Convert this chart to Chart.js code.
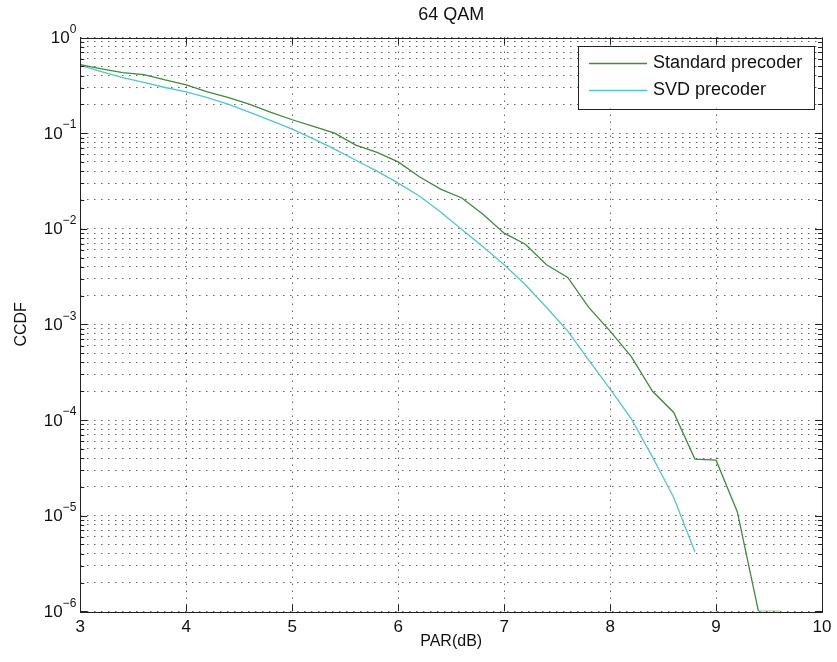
<!DOCTYPE html>
<html>
<head>
<meta charset="utf-8">
<script src="https://cdn.jsdelivr.net/npm/chart.js@4/dist/chart.umd.min.js"></script>
<style>
  body { margin: 0; background: #fff; }
  canvas { display: block; }
</style>
</head>
<body>
<canvas id="ccdf" width="837" height="662"></canvas>
<script>
// PAR values in dB (0.2 dB steps)
const parDb = [3.0, 3.2, 3.4, 3.6, 3.8, 4.0, 4.2, 4.4, 4.6, 4.8, 5.0, 5.2, 5.4, 5.6, 5.8, 6.0, 6.2, 6.4, 6.6, 6.8,
  7.0, 7.2, 7.4, 7.6, 7.8, 8.0, 8.2, 8.4, 8.6, 8.8, 9.0, 9.2, 9.4, 9.6];

const standardCcdf = [0.52, 0.47, 0.43, 0.41, 0.36, 0.32, 0.27, 0.235, 0.20, 0.165, 0.138, 0.118, 0.10, 0.075,
  0.063, 0.050, 0.035, 0.026, 0.021, 0.0142, 0.0090, 0.0069, 0.0042, 0.0031, 0.0015, 0.00085, 0.00046,
  0.0002, 0.00012, 3.9e-5, 3.8e-5, 1.1e-5, 1e-6, 1e-6];

const svdCcdf = [0.51, 0.44, 0.38, 0.34, 0.30, 0.27, 0.235, 0.20, 0.165, 0.135, 0.11, 0.087, 0.068, 0.052,
  0.040, 0.030, 0.022, 0.015, 0.0098, 0.0065, 0.0042, 0.0026, 0.0015, 0.00085, 0.00042, 0.00021, 0.000103,
  4.1e-5, 1.55e-5, 4.2e-6];

const xTicks = [3, 4, 5, 6, 7, 8, 9, 10];
const yDecades = [-6, -5, -4, -3, -2, -1, 0];
const seriesNames = ["Standard precoder", "SVD precoder"];
const seriesColors = ["#3f8a3f", "#52c6c8"];

function toPoints(xs, ys) {
  return ys.map((y, i) => ({ x: xs[i], y: y }));
}

// all log grid positions: 1..9 x 10^d
const yTickValues = [];
yDecades.forEach((d) => {
  if (d === 0) { yTickValues.push(1); return; }
  for (let m = 1; m <= 9; m++) yTickValues.push(Number((m * Math.pow(10, d)).toPrecision(3)));
});

function isDecade(v) {
  const l = Math.log10(v);
  return Math.abs(l - Math.round(l)) < 1e-9;
}

const fontFamily = "'Liberation Sans', Arial, sans-serif";

// box, inward ticks and 10^n labels, like the matlab axes
const axesBox = {
  id: "axesBox",
  afterDatasetsDraw(chart) {
    const { ctx, chartArea: a, scales } = chart;
    ctx.save();
    ctx.strokeStyle = "#222";
    ctx.lineWidth = 1;
    ctx.beginPath();
    scales.x.ticks.forEach((t) => {
      const px = Math.round(scales.x.getPixelForValue(t.value)) + 0.5;
      ctx.moveTo(px, a.bottom); ctx.lineTo(px, a.bottom - 7);
      ctx.moveTo(px, a.top); ctx.lineTo(px, a.top + 7);
    });
    scales.y.ticks.forEach((t) => {
      const py = Math.round(scales.y.getPixelForValue(t.value)) + 0.5;
      const len = isDecade(t.value) ? 7 : 4;
      ctx.moveTo(a.left, py); ctx.lineTo(a.left + len, py);
      ctx.moveTo(a.right, py); ctx.lineTo(a.right - len, py);
    });
    ctx.stroke();
    ctx.strokeRect(Math.round(a.left) + 0.5, Math.round(a.top) + 0.5,
      Math.round(a.right - a.left), Math.round(a.bottom - a.top));

    // y tick labels with raised exponent
    ctx.fillStyle = "#111";
    ctx.textAlign = "right";
    ctx.textBaseline = "middle";
    yDecades.forEach((d) => {
      const py = scales.y.getPixelForValue(Math.pow(10, d));
      const exp = d === 0 ? "0" : "\u2212" + String(-d);
      ctx.font = "12px " + fontFamily;
      const ew = ctx.measureText(exp).width;
      const rx = a.left - 4;
      ctx.fillText(exp, rx, py - 8);
      ctx.font = "17px " + fontFamily;
      ctx.fillText("10", rx - ew, py + 1);
    });
    ctx.restore();
  },
  afterDraw(chart) {
    // legend box inside the plot, top right
    const { ctx, chartArea: a } = chart;
    const bx = a.right - 244, by = a.top + 8, bw = 236, bh = 63;
    ctx.save();
    ctx.fillStyle = "#fff";
    ctx.fillRect(bx, by, bw, bh);
    ctx.strokeStyle = "#222";
    ctx.lineWidth = 1;
    ctx.strokeRect(Math.round(bx) + 0.5, Math.round(by) + 0.5, bw, bh);
    ctx.font = "18px " + fontFamily;
    ctx.textBaseline = "middle";
    ctx.fillStyle = "#111";
    seriesNames.forEach((name, i) => {
      const ly = by + 18 + i * 27;
      ctx.strokeStyle = seriesColors[i];
      ctx.lineWidth = 1.3;
      ctx.beginPath();
      ctx.moveTo(bx + 11, ly); ctx.lineTo(bx + 69, ly);
      ctx.stroke();
      ctx.fillText(name, bx + 75, ly);
    });
    ctx.restore();
  }
};

new Chart(document.getElementById("ccdf"), {
  type: "line",
  data: {
    datasets: [
      {
        label: seriesNames[0],
        data: toPoints(parDb, standardCcdf),
        borderColor: seriesColors[0],
        borderWidth: 1.3,
        pointRadius: 0,
        tension: 0,
      },
      {
        label: seriesNames[1],
        data: toPoints(parDb, svdCcdf),
        borderColor: seriesColors[1],
        borderWidth: 1.3,
        pointRadius: 0,
        tension: 0,
      },
    ],
  },
  options: {
    responsive: false,
    animation: false,
    devicePixelRatio: 1,
    layout: { padding: { top: 0, right: 11.3, bottom: 0, left: 0 } },
    scales: {
      x: {
        type: "linear",
        position: "bottom",
        min: 3,
        max: 10,
        afterBuildTicks: (scale) => { scale.ticks = xTicks.map((v) => ({ value: v })); },
        afterFit: (scale) => { scale.height = 50.7; },
        ticks: { font: { size: 17, family: fontFamily }, color: "#111", padding: 5.5 },
        grid: { drawTicks: false, color: "rgba(0,0,0,0.6)", lineWidth: 1 },
        border: { display: false, dash: [1.5, 5.5] },
        title: { display: true, text: "PAR(dB)", font: { size: 16, family: fontFamily }, color: "#111",
          padding: { top: 0, bottom: 10.4 } },
      },
      xTop: {
        type: "linear",
        position: "top",
        min: 3,
        max: 10,
        display: true,
        afterFit: (scale) => { scale.height = 37.5; },
        ticks: { display: false },
        grid: { display: false, drawTicks: false },
        border: { display: false },
        title: { display: true, text: "64 QAM", font: { size: 18, family: fontFamily }, color: "#111",
          padding: { top: 4.2, bottom: 0 } },
      },
      y: {
        type: "logarithmic",
        min: 1e-6,
        max: 1,
        afterBuildTicks: (scale) => { scale.ticks = yTickValues.map((v) => ({ value: v })); },
        afterFit: (scale) => { scale.width = 80.3; },
        ticks: { display: false, autoSkip: false },
        grid: { drawTicks: false, color: "rgba(0,0,0,0.6)", lineWidth: 1 },
        border: { display: false, dash: [1.5, 5.5] },
        title: { display: true, text: "CCDF", font: { size: 16, family: fontFamily }, color: "#111",
          padding: { top: 12.1, bottom: 0 } },
      },
    },
    plugins: {
      legend: { display: false },
      tooltip: { enabled: false },
    },
  },
  plugins: [axesBox],
});
</script>
</body>
</html>
